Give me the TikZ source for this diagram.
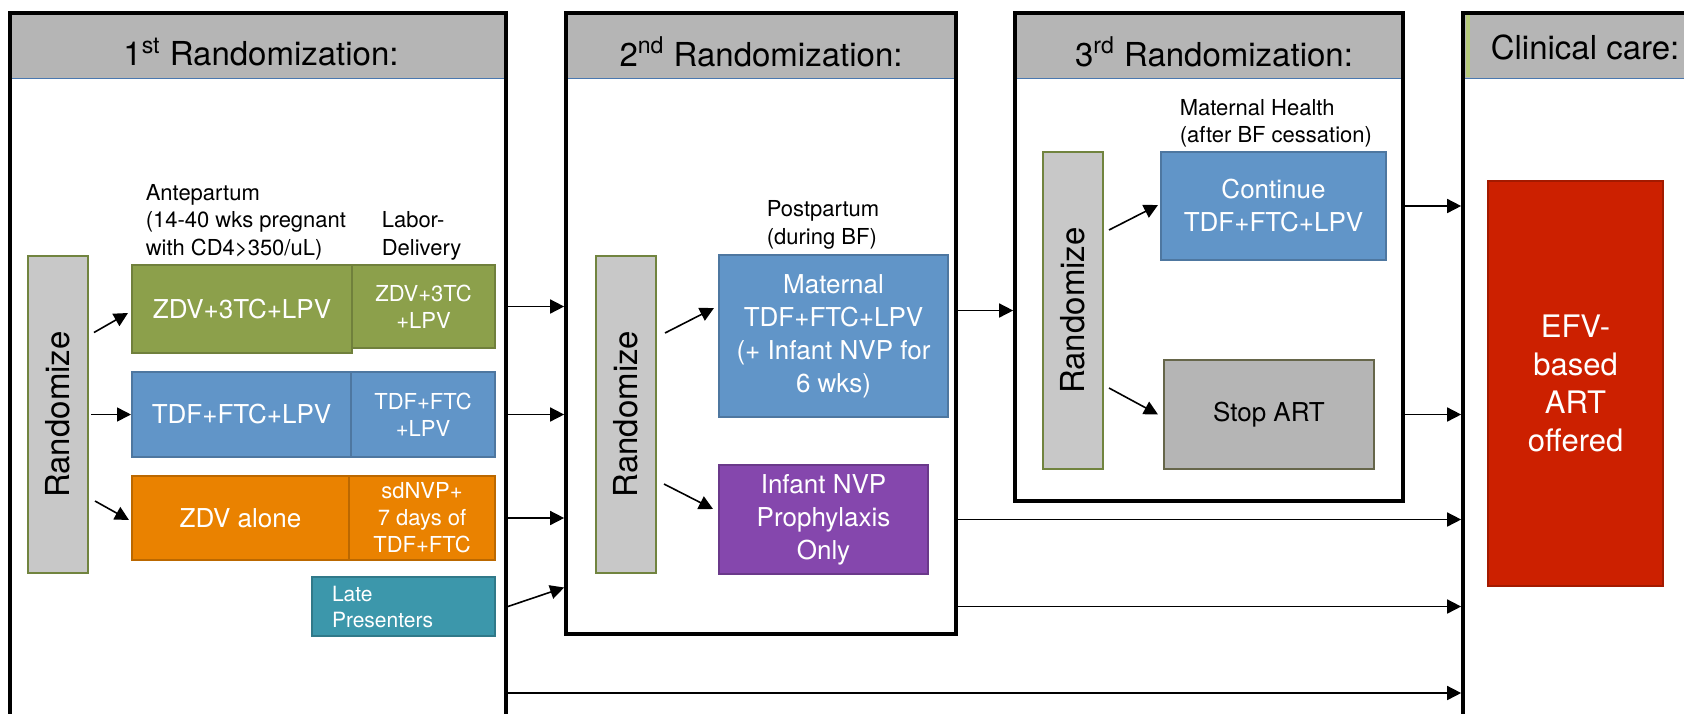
\documentclass[tikz,border=0pt]{standalone}
\usepackage{fontspec}
\setmainfont{TeX Gyre Heros}
\usetikzlibrary{arrows.meta,positioning,calc}

\definecolor{headgray}{HTML}{B5B5B5}
\definecolor{randgray}{HTML}{C8C8C8}
\definecolor{randedge}{HTML}{71843F}
\definecolor{headline}{HTML}{4A78B0}
\definecolor{careline}{HTML}{B5C97A}
\definecolor{grn}{HTML}{8CA04B}
\definecolor{blu}{HTML}{6195C8}
\definecolor{org}{HTML}{EA8200}
\definecolor{tea}{HTML}{3C97AB}
\definecolor{pur}{HTML}{8547AD}
\definecolor{stopedge}{HTML}{66664A}
\definecolor{efvred}{HTML}{CC2000}

\begin{document}
\begin{tikzpicture}[x=0.5pt, y=-0.5pt, thick, >={Triangle[length=7pt,width=7pt]},
  every node/.style={align=center},
  panel/.style={draw, line width=1.85pt, inner sep=0pt},
  headbar/.style={fill=headgray, inner sep=0pt, minimum height=32.5pt},
  headtext/.style={inner sep=0pt, font=\fontsize{16.5}{20}\selectfont},
  rand/.style={draw=randedge, fill=randgray, line width=1pt, inner sep=0pt, minimum width=30pt, minimum height=158.5pt, font=\fontsize{16.5}{20}\selectfont},
  drug/.style={draw=#1!80!black, fill=#1, line width=1pt, inner sep=0pt, text=white},
  bigtxt/.style={font=\fontsize{13}{16.5}\selectfont},
  smalltxt/.style={font=\fontsize{11}{13.5}\selectfont},
  labeltxt/.style={anchor=west, align=left, inner sep=0pt, font=\fontsize{11}{13.75}\selectfont}]
\useasboundingbox (0,0) rectangle (1684,713);
\clip (0,0) rectangle (1684,713);

% header bars
\draw
  node at (258,45.5)[headbar, minimum width=248pt](h1){}
  node at (761,45.5)[headbar, minimum width=195pt](h2){}
  node at (1209,45.5)[headbar, minimum width=194pt](h3){}
  node at (1631.5,45.5)[headbar, minimum width=168.5pt](h4){};
\fill[careline] (1466,14) rectangle (1470,77);
\foreach \hname in {h1,h2,h3,h4}
  \draw[headline, line width=0.6pt] (\hname.south west) -- (\hname.south east);

% panels
\draw
  node at (258,386.5)[panel, minimum width=248pt, minimum height=373.5pt](p1){}
  node at (761,323.5)[panel, minimum width=195pt, minimum height=310.5pt](p2){}
  node at (1209,257)[panel, minimum width=194pt, minimum height=244pt](p3){}
  node at (1631.5,386.5)[panel, minimum width=168.5pt, minimum height=373.5pt](p4){}
  node at (261,52)[headtext](t1){1\textsuperscript{st} Randomization:}
  node at (761,52)[headtext](t2){2\textsuperscript{nd} Randomization:}
  node at (1214,52)[headtext](t3){3\textsuperscript{rd} Randomization:}
  node at (1490,47)[headtext, anchor=west](t4){Clinical care:};

% 1st randomization
\draw
  node at (58,414.5)[rand](r1){\rotatebox{90}{Randomize}}
  node at (145,222)[labeltxt](ante){Antepartum\\(14-40 wks pregnant\\with CD4>350/uL)}
  node at (381,236)[labeltxt](labor){Labor-\\Delivery}
  node at (242,309)[drug=grn, bigtxt, minimum width=110pt, minimum height=44pt](g1){ZDV+3TC+LPV}
  node at (423.5,306.5)[drug=grn, smalltxt, minimum width=71.5pt, minimum height=41.5pt](g2){ZDV+3TC\\+LPV}
  node at (241.5,414.5)[drug=blu, bigtxt, minimum width=109.5pt, minimum height=42.5pt](b1){TDF+FTC+LPV}
  node at (423,414.5)[drug=blu, smalltxt, minimum width=72pt, minimum height=42.5pt](b2){TDF+FTC\\+LPV}
  node at (240.5,518)[drug=org, bigtxt, minimum width=108.5pt, minimum height=42pt](o1){ZDV alone}
  node at (422,518)[drug=org, smalltxt, minimum width=73pt, minimum height=42pt](o2){sdNVP+\\7 days of\\TDF+FTC}
  node at (403.5,606.5)[drug=tea, font=\fontsize{10.5}{13}\selectfont, align=left, text width=71.5pt, inner xsep=10pt, minimum width=91.5pt, minimum height=29.5pt](late){Late\\Presenters};

% 2nd randomization
\draw
  node at (626,414)[rand](r2){\rotatebox{90}{Randomize}}
  node at (766,225)[labeltxt](post){Postpartum\\(during BF)}
  node at (833.5,336)[drug=blu, bigtxt, minimum width=114.5pt, minimum height=81pt](mat){Maternal\\TDF+FTC+LPV\\(+ Infant NVP for\\6 wks)}
  node at (823.5,519.5)[drug=pur, bigtxt, minimum width=104.5pt, minimum height=54.5pt](inf){Infant NVP\\Prophylaxis\\Only};

% 3rd randomization
\draw
  node at (1073,310.5)[rand](r3){\rotatebox{90}{Randomize}}
  node at (1179,123.5)[labeltxt](mh){Maternal Health\\(after BF cessation)}
  node at (1273.5,206)[drug=blu, bigtxt, minimum width=112.5pt, minimum height=54pt](cont){Continue\\TDF+FTC+LPV}
  node at (1269,414.5)[drug=headgray, draw=stopedge, text=black, bigtxt, minimum width=105pt, minimum height=54.5pt](stop){Stop ART};

% clinical care
\draw
  node at (1575.5,383.5)[drug=efvred, font=\fontsize{15.5}{19}\selectfont, minimum width=87.5pt, minimum height=202.5pt](efv){EFV-\\based\\ART\\offered};

\coordinate (low) at (0,693);
\draw[->] ($(r1.east)+(5,-82)$) -- ($(g1.west)+(-3,4)$);
\draw[->] ([xshift=1pt]r1.east) -- (b1.west);
\draw[->] ($(r1.east)+(6,86.5)$) -- ($(o1.west)+(-2,2)$);
\draw[->] (p1.east |- g2) -- (p2.west |- g2);
\draw[->] (p1.east |- b2) -- (p2.west |- b2);
\draw[->] (p1.east |- o2) -- (p2.west |- o2);
\draw[->] (p1.east |- late) -- ($(p2.west |- late)+(0,-19)$);
\draw[->] (p1.east |- low) -- (p4.west |- low);
\draw[->] ($(r2.east)+(8,-81)$) -- ($(mat.west)+(-4,-28)$);
\draw[->] ($(r2.east)+(7,70)$) -- ($(inf.west)+(-5,-10.5)$);
\draw[->] (p2.east |- r3) -- (p3.west |- r3);
\draw[->] (p2.east |- inf) -- (p4.west |- inf);
\draw[->] (p2.east |- late) -- (p4.west |- late);
\draw[->] ($(r3.east)+(5,-80.5)$) -- ($(cont.west)+(-2,-1)$);
\draw[->] ($(r3.east)+(5,77.5)$) -- ($(stop.west)+(-5,0)$);
\draw[->] (p3.east |- cont) -- (p4.west |- cont);
\draw[->] (p3.east |- stop) -- (p4.west |- stop);
\end{tikzpicture}
\end{document}
